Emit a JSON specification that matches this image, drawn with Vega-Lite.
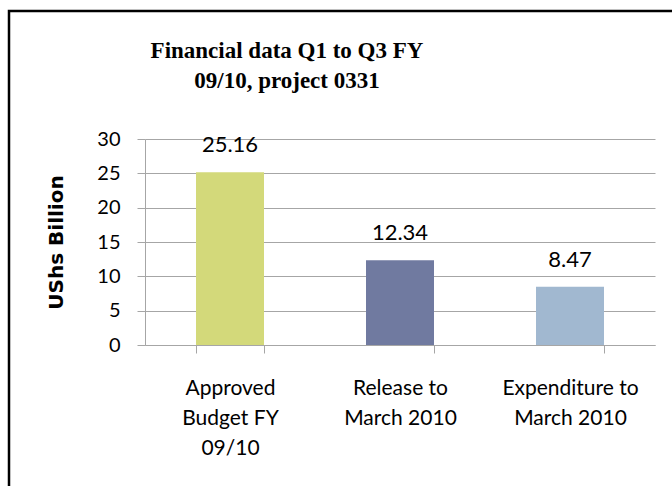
{
  "$schema": "https://vega.github.io/schema/vega-lite/v6.json",
  "autosize": {"type": "none"},
  "padding": {"left": 9, "top": 11, "right": -4, "bottom": -4},
  "width": 667,
  "height": 479,
  "background": "white",
  "title": {
    "text": ["Financial data Q1 to Q3 FY", "09/10, project 0331"],
    "font": "Liberation Serif",
    "fontSize": 23,
    "fontWeight": "bold",
    "color": "black",
    "lineHeight": 30,
    "anchor": "start",
    "frame": "group",
    "align": "center",
    "baseline": "alphabetic",
    "offset": 0,
    "dx": 278,
    "dy": 100
  },
  "data": {
    "values": [
      {"category": "Approved Budget FY 09/10", "value": 25.16},
      {"category": "Release to March 2010", "value": 12.34},
      {"category": "Expenditure to March 2010", "value": 8.47}
    ]
  },
  "encoding": {
    "x": {
      "field": "category",
      "type": "nominal",
      "sort": null,
      "scale": {"range": [136, 646], "paddingInner": 0.6, "paddingOuter": 0.3},
      "axis": {
        "title": null,
        "orient": "bottom",
        "offset": -145,
        "labelAngle": 0,
        "labelFont": "Lato",
        "labelFontSize": 21,
        "labelColor": "black",
        "labelLineHeight": 30,
        "labelPadding": 24,
        "labelExpr": "datum.value == 'Approved Budget FY 09/10' ? ['Approved', 'Budget FY', '09/10'] : datum.value == 'Release to March 2010' ? ['Release to', 'March 2010'] : datum.value == 'Expenditure to March 2010' ? ['Expenditure to', 'March 2010'] : ''",
        "tickBand": "extent",
        "tickSize": 8,
        "tickColor": "#a6a6a6",
        "domainColor": "#a6a6a6",
        "grid": false
      }
    },
    "y": {
      "field": "value",
      "type": "quantitative",
      "scale": {"domain": [0, 30], "range": [334, 128], "nice": false},
      "axis": {
        "title": "UShs Billion",
        "orient": "left",
        "offset": -136,
        "values": [0, 5, 10, 15, 20, 25, 30],
        "titleFont": "DejaVu Sans",
        "titleFontSize": 20,
        "titleFontWeight": "bold",
        "titleColor": "black",
        "titlePadding": 30,
        "labelFont": "Lato",
        "labelFontSize": 20,
        "labelColor": "black",
        "labelPadding": 17,
        "tickSize": 8,
        "tickColor": "#a6a6a6",
        "domainColor": "#a6a6a6",
        "grid": true,
        "gridColor": "#a6a6a6",
        "gridWidth": 1
      }
    }
  },
  "layer": [
    {
      "mark": {"type": "bar"},
      "encoding": {
        "color": {
          "field": "category",
          "type": "nominal",
          "sort": null,
          "scale": {"range": ["#D3D97A", "#707AA0", "#A1B8D0"]},
          "legend": null
        }
      }
    },
    {
      "mark": {"type": "text", "font": "Lato", "fontSize": 22, "color": "black", "baseline": "alphabetic", "dy": -20},
      "encoding": {
        "text": {"field": "value", "type": "quantitative", "format": ".2f"}
      }
    }
  ],
  "config": {
    "view": {"stroke": "black", "strokeWidth": 2.5}
  }
}
